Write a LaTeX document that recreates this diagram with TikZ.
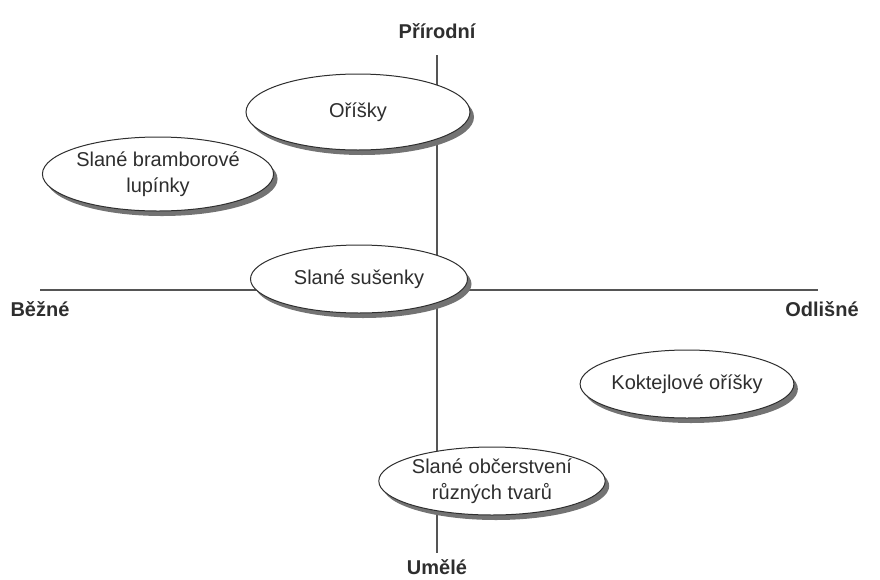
\documentclass[tikz,border=0pt]{standalone}
\usepackage{fontspec}
\setmainfont{Liberation Sans}
\usetikzlibrary{shapes.geometric,shadows}
\definecolor{txt}{HTML}{2E2E2E}
\definecolor{axis}{HTML}{555555}
\begin{document}
\begin{tikzpicture}[x=1pt,y=-1pt,
  bubble/.style={ellipse, draw=txt, line width=1pt, fill=white, text=txt,
    font=\fontsize{20}{26}\selectfont, align=center, inner sep=0pt,
    drop shadow={shadow xshift=4pt, shadow yshift=-5pt, fill=black!55, opacity=1}},
  axlabel/.style={font=\fontsize{20}{24}\selectfont\bfseries, text=txt, inner sep=0pt},
  axline/.style={draw=axis, line width=1.1pt}]
\useasboundingbox (0,0) rectangle (880,579);
\coordinate (top) at (437,55);
\coordinate (bot) at (437,553);
\coordinate (left) at (40,290);
\coordinate (right) at (818,290);
\draw[axline] (top) -- (bot);
\draw[axline] (left) -- (right);
\node[axlabel] (prir) at (437,31) {Přírodní};
\node[axlabel] (umel) at (437,567) {Umělé};
\node[axlabel] (bez) at (40,309) {Běžné};
\node[axlabel] (odl) at (822,309) {Odlišné};
\node[bubble, minimum width=224, minimum height=76] (orisky) at (358,112) {Oříšky};
\node[bubble, minimum width=220, minimum height=74] (lupinky) at (158,174) {Slané bramborové\\lupínky};
\node[bubble, minimum width=217, minimum height=68] (susenky) at (359,279) {Slané sušenky};
\node[bubble, minimum width=210, minimum height=68] (koktejl) at (687,384) {Koktejlové oříšky};
\node[bubble, minimum width=200, minimum height=68] (obcer) at (492,481) {Slané občerstvení\\různých tvarů};
\end{tikzpicture}
\end{document}
